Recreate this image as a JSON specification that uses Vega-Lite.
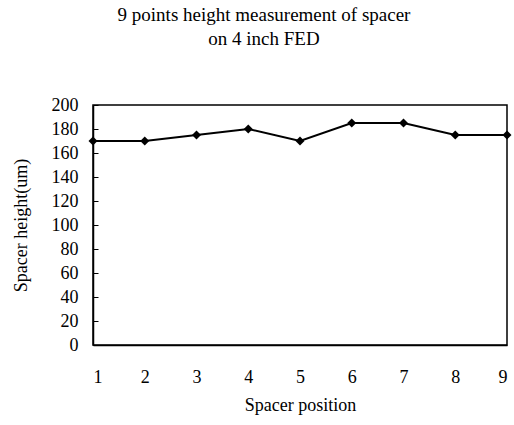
{
  "$schema": "https://vega.github.io/schema/vega-lite/v6.json",
  "autosize": "none",
  "width": 414,
  "height": 240,
  "padding": {"left": 93, "top": 105, "right": 7, "bottom": 80},
  "background": "white",
  "title": {
    "text": ["9 points height measurement of spacer", "on 4 inch FED"],
    "font": "Liberation Serif",
    "fontSize": 19,
    "fontWeight": "normal",
    "color": "black",
    "anchor": "middle",
    "dx": -36,
    "offset": 47,
    "lineHeight": 24
  },
  "config": {
    "view": {"stroke": "black", "strokeWidth": 1.5},
    "axis": {
      "labelFont": "Liberation Serif",
      "titleFont": "Liberation Serif",
      "labelFontSize": 18,
      "titleFontSize": 18,
      "titleFontWeight": "normal",
      "labelColor": "black",
      "titleColor": "black",
      "domainColor": "black",
      "domainWidth": 1.5,
      "tickColor": "black",
      "labelOverlap": false,
      "grid": false
    }
  },
  "data": {
    "values": [
      {"position": 1, "height": 170},
      {"position": 2, "height": 170},
      {"position": 3, "height": 175},
      {"position": 4, "height": 180},
      {"position": 5, "height": 170},
      {"position": 6, "height": 185},
      {"position": 7, "height": 185},
      {"position": 8, "height": 175},
      {"position": 9, "height": 175}
    ]
  },
  "encoding": {
    "x": {
      "field": "position",
      "type": "quantitative",
      "scale": {"domain": [1, 9], "nice": false},
      "axis": {
        "title": "Spacer position",
        "values": [1, 2, 3, 4, 5, 6, 7, 8, 9],
        "format": "d",
        "ticks": false,
        "labelOverlap": false,
        "labelPadding": 23,
        "titlePadding": 10
      }
    },
    "y": {
      "field": "height",
      "type": "quantitative",
      "scale": {"domain": [0, 200], "nice": false},
      "axis": {
        "title": "Spacer height(um)",
        "values": [0, 20, 40, 60, 80, 100, 120, 140, 160, 180, 200],
        "tickSize": -5,
        "labelOverlap": false,
        "labelPadding": 20,
        "titlePadding": 21
      }
    }
  },
  "layer": [
    {
      "mark": {"type": "line", "color": "black", "strokeWidth": 2}
    },
    {
      "mark": {"type": "point", "shape": "diamond", "filled": true, "color": "black", "size": 80, "opacity": 1}
    }
  ]
}
